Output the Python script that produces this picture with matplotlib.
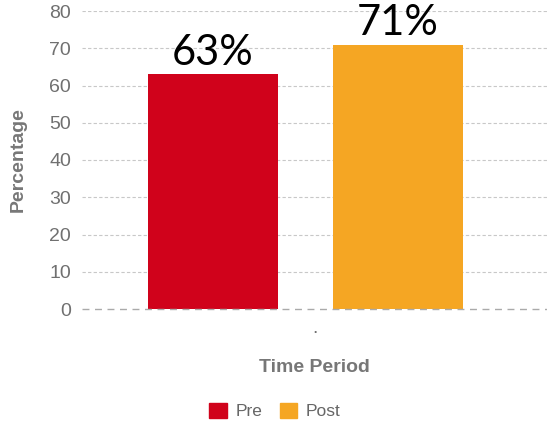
import matplotlib
matplotlib.use("Agg")
import matplotlib.pyplot as plt
from matplotlib.patches import Patch

plt.rcParams["font.family"] = ["Liberation Sans", "DejaVu Sans"]

# data
periods = ["Pre", "Post"]
values = [63, 71]
labels = ["63%", "71%"]
colors = ["#d0021b", "#f5a623"]
yticks = [0, 10, 20, 30, 40, 50, 60, 70, 80]

fig = plt.figure(figsize=(5.47, 4.22), dpi=100)
ax = fig.add_axes([82 / 547, 1 - 309 / 422, 1 - 82 / 547, 298 / 422])

x = [0, 1]
ax.bar(x, values, width=0.70, color=colors, zorder=3)

# big value labels above the bars
for xi, v, lab in zip(x, values, labels):
    ax.text(xi, v + 2.6, lab, ha="center", va="baseline", fontsize=30,
            family="Lato", color="black", zorder=4)

ax.set_xlim(-0.708, 1.805)
ax.set_ylim(0, 80)
ax.set_yticks(yticks)
ax.set_xticks([0.55])
ax.set_xticklabels(["."], color="#666666", fontsize=11)

# grid
for t in yticks[1:]:
    ax.axhline(t, color="#c8c8c8", lw=0.8, ls=(0, (3, 2)), zorder=1)
ax.axhline(0, color="#aaaaaa", lw=1.0, ls=(0, (5, 4)), zorder=5, clip_on=False)

for s in ax.spines.values():
    s.set_visible(False)
ax.tick_params(axis="both", length=0, labelsize=14, labelcolor="#707070", pad=8)

ax.set_ylabel("Percentage", fontsize=14, fontweight="bold", color="#777777", labelpad=16)
fig.text(314 / 547, 1 - 367 / 422, "Time Period", ha="center", va="center",
         fontsize=14, fontweight="bold", color="#777777")

handles = [Patch(color=c, label=p) for p, c in zip(periods, colors)]
fig.legend(handles=handles, loc="center", bbox_to_anchor=(275 / 547, 1 - 411 / 422),
           ncol=2, frameon=False, fontsize=12.5, handlelength=1.0, handleheight=1.0,
           columnspacing=1.0, handletextpad=0.5, labelcolor="#666666")

fig.savefig("out.png", dpi=100)
